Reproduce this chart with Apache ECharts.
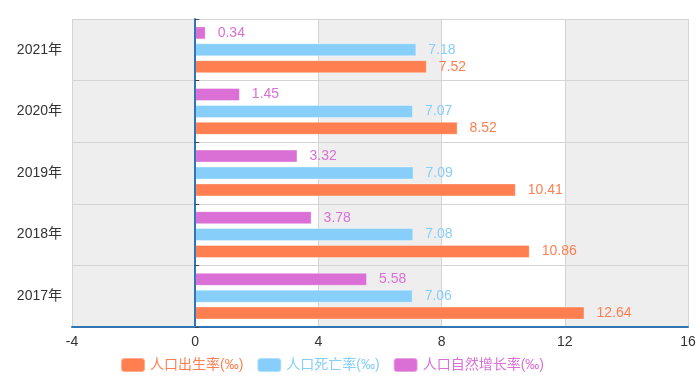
<!DOCTYPE html>
<html>
<head>
<meta charset="utf-8">
<script src="https://cdn.jsdelivr.net/npm/echarts@6/dist/echarts.min.js"></script>
<style>html,body{margin:0;padding:0;background:#fff}#c{width:700px;height:387px}</style>
</head>
<body>
<div id="c"></div>
<script>
var categories = ['2017年', '2018年', '2019年', '2020年', '2021年'];
var birthRate = [12.64, 10.86, 10.41, 8.52, 7.52];
var deathRate = [7.06, 7.08, 7.09, 7.07, 7.18];
var growthRate = [5.58, 3.78, 3.32, 1.45, 0.34];
var seriesNames = ['人口出生率(‰)', '人口死亡率(‰)', '人口自然增长率(‰)'];
var colors = ['#FF7F50', '#87CEFA', '#DA70D6'];
var xTicks = { min: -4, max: 16, interval: 4 };

var font = "'Liberation Sans', 'Noto Sans CJK SC', sans-serif";
var chart = echarts.init(document.getElementById('c'));
function mk(name, data, color) {
  return {
    name: name, type: 'bar', data: data, xAxisIndex: 0, yAxisIndex: 0,
    barWidth: 13, barGap: '30%', z: 3,
    itemStyle: { color: color, borderColor: 'rgba(255,255,255,0.35)', borderWidth: 1 },
    label: { show: true, position: 'right', distance: 12, color: color, fontSize: 14, fontFamily: font }
  };
}
chart.setOption({
  animation: false,
  textStyle: { fontFamily: font },
  grid: { left: 72, right: 12, top: 19, bottom: 60, containLabel: false },
  legend: {
    left: 115, top: 352, itemWidth: 24, itemHeight: 14, itemGap: 13,
    data: seriesNames.map(function (n, i) { return { name: n, textStyle: { color: colors[i] } }; }),
    textStyle: { fontSize: 14, fontFamily: font }
  },
  xAxis: [{
    type: 'value', min: xTicks.min, max: xTicks.max, interval: xTicks.interval, position: 'bottom', z: 2,
    axisLine: { show: true, onZero: false, lineStyle: { color: '#3176b4', width: 2 } },
    axisTick: { show: false },
    axisLabel: { color: '#333', fontSize: 14, margin: 8 },
    splitLine: { show: true, lineStyle: { color: '#d4d4d4', width: 1 } },
    splitArea: { show: false }
  }, {
    type: 'value', min: xTicks.min, max: xTicks.max, interval: xTicks.interval, position: 'top', z: 0,
    axisLine: { show: false, onZero: false },
    axisTick: { show: false },
    axisLabel: { show: false },
    splitLine: { show: false },
    splitArea: { show: true, areaStyle: { color: ['#eeeeee', '#ffffff'] } }
  }],
  yAxis: [{
    type: 'category', data: categories, position: 'left', z: 2,
    axisLine: { show: false, onZero: false },
    axisTick: { show: false },
    axisLabel: { color: '#333', fontSize: 14, margin: 10 },
    splitLine: { show: true, lineStyle: { color: '#d4d4d4', width: 1 } }
  }, {
    type: 'category', data: categories, position: 'right', z: 4,
    axisLine: { show: true, onZero: true, onZeroAxisIndex: 0, lineStyle: { color: '#3176b4', width: 2 } },
    axisTick: { show: true, length: 4, lineStyle: { color: '#444' } },
    axisLabel: { show: false },
    splitLine: { show: false }
  }],
  series: [
    mk(seriesNames[2], growthRate, colors[2]),
    mk(seriesNames[1], deathRate, colors[1]),
    mk(seriesNames[0], birthRate, colors[0])
  ]
});
</script>
</body>
</html>
